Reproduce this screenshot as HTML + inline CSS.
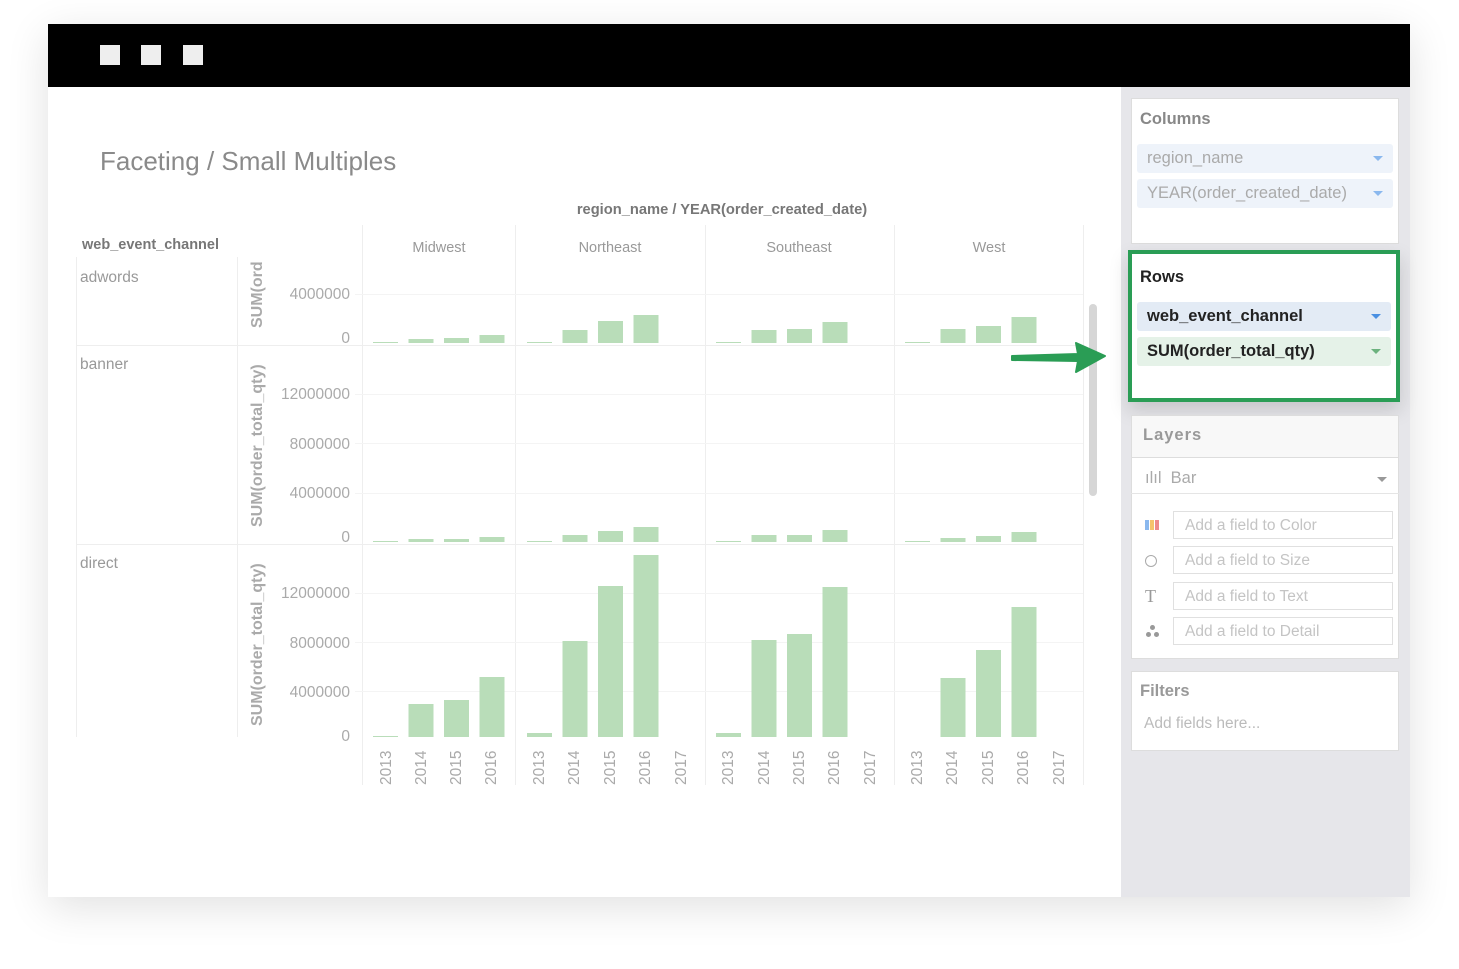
<!DOCTYPE html>
<html><head><meta charset="utf-8"><style>
*{margin:0;padding:0;box-sizing:border-box}
body{width:1459px;height:969px;background:#fff;position:relative;overflow:hidden;font-family:"Liberation Sans",sans-serif}
.win{position:absolute;left:48px;top:24px;width:1362px;height:873px;background:#fff;box-shadow:0 10px 40px rgba(0,0,0,0.12)}
.hdr{position:absolute;left:48px;top:24px;width:1362px;height:63px;background:#000}
.sq{position:absolute;top:45px;width:20px;height:20px;background:#eee}
.side{position:absolute;left:1121px;top:87px;width:289px;height:810px;background:#e6e6ea}
.pan{position:absolute;background:#fff;border:1px solid #ddd}
.t{position:absolute;white-space:nowrap}
.pill{position:absolute;left:1137px;width:256px;height:29px;border-radius:3px;font-size:16.5px;line-height:29px;padding-left:10px}
.tri{position:absolute;right:10px;top:12px;width:0;height:0;border-left:5px solid transparent;border-right:5px solid transparent;border-top:5px solid #8ab8ee}
.inp{position:absolute;left:1173px;width:220px;height:28px;border:1px solid #e0e0e0;font-size:15.5px;color:#c4c4c4;line-height:27px;padding-left:11px;background:#fff}
</style></head><body>
<div class="win"></div>
<div class="hdr"></div>
<div class="sq" style="left:100px"></div><div class="sq" style="left:141px"></div><div class="sq" style="left:183px"></div>
<div class="t" style="left:100px;top:146px;font-size:26px;color:#8a8a8a">Faceting / Small Multiples</div>

<svg style="position:absolute;left:0;top:0" width="1121" height="897">
<g font-family="Liberation Sans, sans-serif">
<text x="722" y="214" text-anchor="middle" font-size="14.7" fill="#777" font-weight="bold">region_name / YEAR(order_created_date)</text>
<text x="82" y="249" font-size="14.5" fill="#777" font-weight="bold">web_event_channel</text>
<g font-size="14.5" fill="#999" text-anchor="middle">
<text x="439" y="252">Midwest</text><text x="610" y="252">Northeast</text><text x="799" y="252">Southeast</text><text x="989" y="252">West</text>
</g>
<g stroke="#eee" stroke-width="1">
<line x1="362.5" y1="225" x2="362.5" y2="785"/><line x1="515.5" y1="225" x2="515.5" y2="785"/><line x1="705.5" y1="225" x2="705.5" y2="785"/><line x1="894.5" y1="225" x2="894.5" y2="785"/><line x1="1083.5" y1="225" x2="1083.5" y2="785"/>
<line x1="76.5" y1="257" x2="76.5" y2="737"/><line x1="237.5" y1="257" x2="237.5" y2="737"/>
<line x1="76" y1="345.5" x2="1083" y2="345.5"/><line x1="76" y1="544.5" x2="1083" y2="544.5"/>
</g>
<g stroke="#f4f4f4">
<line x1="355" y1="294.5" x2="1083" y2="294.5"/>
<line x1="355" y1="394.5" x2="1083" y2="394.5"/><line x1="355" y1="443.5" x2="1083" y2="443.5"/><line x1="355" y1="493.5" x2="1083" y2="493.5"/>
<line x1="355" y1="593.5" x2="1083" y2="593.5"/><line x1="355" y1="642.5" x2="1083" y2="642.5"/><line x1="355" y1="691.5" x2="1083" y2="691.5"/>
</g>
<g font-size="15.5" fill="#999">
<text x="80" y="282">adwords</text><text x="80" y="369">banner</text><text x="80" y="568">direct</text>
</g>
<g font-size="15.5" fill="#aaa" text-anchor="end">
<text x="350" y="299">4000000</text><text x="350" y="343">0</text>
<text x="350" y="399">12000000</text><text x="350" y="449">8000000</text><text x="350" y="498">4000000</text><text x="350" y="542">0</text>
<text x="350" y="598">12000000</text><text x="350" y="648">8000000</text><text x="350" y="697">4000000</text><text x="350" y="741">0</text>
</g>
<g font-size="16" fill="#aaa" font-weight="bold">
<text transform="translate(262,328) rotate(-90)">SUM(ord</text>
<text transform="translate(262,527) rotate(-90)">SUM(order_total_qty)</text>
<text transform="translate(262,726) rotate(-90)">SUM(order_total_qty)</text>
</g>
<g fill="#b9ddb9">
<rect x="373" y="342" width="25" height="1"/><rect x="408.5" y="339" width="25" height="4"/><rect x="444" y="338" width="25" height="5"/><rect x="479.5" y="335" width="25" height="8"/>
<rect x="527" y="342" width="25" height="1"/><rect x="562.5" y="330" width="25" height="13"/><rect x="598" y="321" width="25" height="22"/><rect x="633.5" y="315" width="25" height="28"/>
<rect x="716" y="342" width="25" height="1"/><rect x="751.5" y="330" width="25" height="13"/><rect x="787" y="329" width="25" height="14"/><rect x="822.5" y="322" width="25" height="21"/>
<rect x="905" y="342" width="25" height="1"/><rect x="940.5" y="329" width="25" height="14"/><rect x="976" y="326" width="25" height="17"/><rect x="1011.5" y="317" width="25" height="26"/>
<rect x="373" y="541" width="25" height="1"/><rect x="408.5" y="539" width="25" height="3"/><rect x="444" y="539" width="25" height="3"/><rect x="479.5" y="537" width="25" height="5"/>
<rect x="527" y="541" width="25" height="1"/><rect x="562.5" y="535" width="25" height="7"/><rect x="598" y="531" width="25" height="11"/><rect x="633.5" y="527" width="25" height="15"/>
<rect x="716" y="541" width="25" height="1"/><rect x="751.5" y="535" width="25" height="7"/><rect x="787" y="535" width="25" height="7"/><rect x="822.5" y="530" width="25" height="12"/>
<rect x="905" y="541" width="25" height="1"/><rect x="940.5" y="538" width="25" height="4"/><rect x="976" y="536" width="25" height="6"/><rect x="1011.5" y="532" width="25" height="10"/>
<rect x="373" y="736" width="25" height="1"/><rect x="408.5" y="704" width="25" height="33"/><rect x="444" y="700" width="25" height="37"/><rect x="479.5" y="677" width="25" height="60"/>
<rect x="527" y="733" width="25" height="4"/><rect x="562.5" y="641" width="25" height="96"/><rect x="598" y="586" width="25" height="151"/><rect x="633.5" y="555" width="25" height="182"/>
<rect x="716" y="733" width="25" height="4"/><rect x="751.5" y="640" width="25" height="97"/><rect x="787" y="634" width="25" height="103"/><rect x="822.5" y="587" width="25" height="150"/>
<rect x="940.5" y="678" width="25" height="59"/><rect x="976" y="650" width="25" height="87"/><rect x="1011.5" y="607" width="25" height="130"/>
</g>
<g font-size="15.5" fill="#aaa">
<text transform="translate(391,785) rotate(-90)">2013</text><text transform="translate(426,785) rotate(-90)">2014</text><text transform="translate(461,785) rotate(-90)">2015</text><text transform="translate(496,785) rotate(-90)">2016</text>
<text transform="translate(544,785) rotate(-90)">2013</text><text transform="translate(579,785) rotate(-90)">2014</text><text transform="translate(615,785) rotate(-90)">2015</text><text transform="translate(650,785) rotate(-90)">2016</text><text transform="translate(686,785) rotate(-90)">2017</text>
<text transform="translate(733,785) rotate(-90)">2013</text><text transform="translate(769,785) rotate(-90)">2014</text><text transform="translate(804,785) rotate(-90)">2015</text><text transform="translate(839,785) rotate(-90)">2016</text><text transform="translate(875,785) rotate(-90)">2017</text>
<text transform="translate(922,785) rotate(-90)">2013</text><text transform="translate(957,785) rotate(-90)">2014</text><text transform="translate(993,785) rotate(-90)">2015</text><text transform="translate(1028,785) rotate(-90)">2016</text><text transform="translate(1064,785) rotate(-90)">2017</text>
</g>
<rect x="1089" y="304" width="8" height="192" rx="4" fill="#d6d6d6"/>
<path d="M1012 356 L1078 354 L1076 343 L1105 356 L1076 372 L1078 361 L1012 360 Z" fill="#2a9d55" stroke="#2a9d55" stroke-width="2" stroke-linejoin="round"/>
</g>
</svg>

<div class="side"></div>
<div class="pan" style="left:1131px;top:98px;width:268px;height:146px"></div>
<div class="t" style="left:1140px;top:110px;font-size:16.5px;color:#888;font-weight:bold">Columns</div>
<div class="pill" style="top:144px;background:#eef3fa;color:#aaa">region_name<div class="tri"></div></div>
<div class="pill" style="top:179px;background:#eef3fa;color:#aaa">YEAR(order_created_date)<div class="tri"></div></div>

<div class="pan" style="left:1128px;top:250px;width:272px;height:152px;border:4px solid #2a9d55;box-shadow:0 8px 18px rgba(0,0,0,0.15)"></div>
<div class="t" style="left:1140px;top:268px;font-size:16.5px;color:#222;font-weight:bold">Rows</div>
<div class="pill" style="top:302px;background:#e3ebf5;color:#222;font-weight:bold;width:254px">web_event_channel<div class="tri" style="border-top-color:#4a90e2"></div></div>
<div class="pill" style="top:337px;background:#e5f2e8;color:#222;font-weight:bold;width:254px">SUM(order_total_qty)<div class="tri" style="border-top-color:#6cb27e"></div></div>

<div class="pan" style="left:1131px;top:415px;width:268px;height:244px"></div>
<div class="pan" style="left:1131px;top:415px;width:268px;height:43px;background:#f8f8f8"></div>
<div class="t" style="left:1143px;top:426px;font-size:16.5px;color:#999;font-weight:bold;letter-spacing:1px">Layers</div>
<div class="t" style="left:1145px;top:469px;font-size:16.5px;color:#aaa">ılıl&nbsp; Bar</div>
<div style="position:absolute;left:1377px;top:477px;border-left:5px solid transparent;border-right:5px solid transparent;border-top:5px solid #999"></div>
<div style="position:absolute;left:1131px;top:493px;width:268px;height:1px;background:#e5e5e5"></div>
<div style="position:absolute;left:1145px;top:520px;width:4px;height:10px;background:#8ab8ee"></div>
<div style="position:absolute;left:1150px;top:520px;width:4px;height:10px;background:#f5c36b"></div>
<div style="position:absolute;left:1155px;top:520px;width:4px;height:10px;background:#ee8a8a"></div>
<div style="position:absolute;left:1145px;top:555px;width:12px;height:12px;border:1.5px solid #aaa;border-radius:50%"></div>
<div class="t" style="left:1145px;top:586px;font-size:18px;color:#999;font-family:'Liberation Serif',serif">T</div>
<div style="position:absolute;left:1150px;top:625px;width:5px;height:5px;border-radius:50%;background:#999"></div>
<div style="position:absolute;left:1146px;top:632px;width:5px;height:5px;border-radius:50%;background:#999"></div>
<div style="position:absolute;left:1154px;top:632px;width:5px;height:5px;border-radius:50%;background:#999"></div>
<div class="inp" style="top:511px">Add a field to Color</div>
<div class="inp" style="top:546px">Add a field to Size</div>
<div class="inp" style="top:582px">Add a field to Text</div>
<div class="inp" style="top:617px">Add a field to Detail</div>

<div class="pan" style="left:1131px;top:671px;width:268px;height:80px"></div>
<div class="t" style="left:1140px;top:682px;font-size:16.5px;color:#999;font-weight:bold">Filters</div>
<div class="t" style="left:1144px;top:715px;font-size:15.5px;color:#bbb">Add fields here...</div>
</body></html>
